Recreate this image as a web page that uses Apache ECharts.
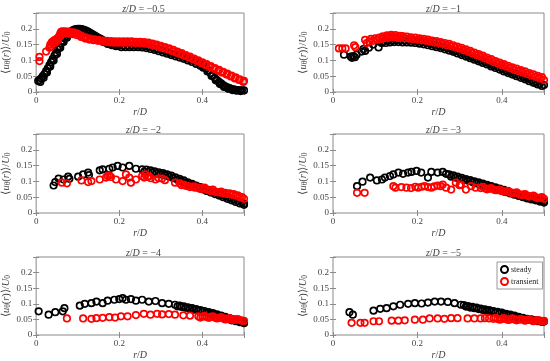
<!DOCTYPE html>
<html><head><meta charset="utf-8">
<script src="https://cdn.jsdelivr.net/npm/echarts@6/dist/echarts.min.js"></script>
<style>html,body{margin:0;padding:0;background:#fff}#c{width:550px;height:361px}</style>
</head><body><div id="c"></div>
<script>
const zLabels = ['−0.5','−1','−2','−3','−4','−5'];
const xTicks = [0, 0.2, 0.4];
const yTicks = [0, 0.05, 0.1, 0.15, 0.2];

const p1Steady = [[0.005,0.035],[0.008,0.038],[0.012,0.043],[0.016,0.05],[0.02,0.057],[0.024,0.066],[0.028,0.075],[0.032,0.085],[0.036,0.095],[0.04,0.105],[0.044,0.115],[0.048,0.125],[0.052,0.135],[0.056,0.145],[0.06,0.154],[0.064,0.162],[0.068,0.17],[0.072,0.177],[0.076,0.183],[0.08,0.188],[0.085,0.193],[0.09,0.197],[0.095,0.199],[0.1,0.2],[0.105,0.2],[0.11,0.199],[0.115,0.197],[0.12,0.194],[0.125,0.191],[0.13,0.187],[0.135,0.183],[0.14,0.179],[0.145,0.175],[0.15,0.171],[0.155,0.168],[0.16,0.164],[0.165,0.161],[0.17,0.158],[0.175,0.155],[0.18,0.153],[0.185,0.151],[0.19,0.15],[0.195,0.149],[0.2,0.148],[0.21,0.147],[0.22,0.147],[0.23,0.147],[0.24,0.147],[0.25,0.147],[0.26,0.146],[0.27,0.144],[0.28,0.141],[0.29,0.137],[0.3,0.133],[0.31,0.129],[0.32,0.125],[0.33,0.121],[0.34,0.117],[0.35,0.113],[0.36,0.109],[0.37,0.104],[0.38,0.099],[0.39,0.093],[0.4,0.086],[0.405,0.081],[0.41,0.075],[0.415,0.068],[0.42,0.06],[0.425,0.052],[0.43,0.045],[0.435,0.038],[0.44,0.032],[0.445,0.027],[0.45,0.022],[0.455,0.018],[0.46,0.015],[0.465,0.012],[0.47,0.01],[0.475,0.008],[0.48,0.007],[0.485,0.006],[0.49,0.005],[0.495,0.005],[0.5,0.005]];
const p1SteadyB = [[0.01,0.032],[0.018,0.045],[0.026,0.062],[0.034,0.081],[0.042,0.1],[0.05,0.12],[0.058,0.14],[0.066,0.158],[0.074,0.172],[0.082,0.184],[0.092,0.192],[0.102,0.195],[0.112,0.194],[0.122,0.188],[0.132,0.181],[0.142,0.173],[0.152,0.165],[0.162,0.158],[0.172,0.152],[0.182,0.148],[0.192,0.145],[0.205,0.142],[0.215,0.142],[0.225,0.142],[0.235,0.142],[0.245,0.142],[0.255,0.141],[0.265,0.139],[0.275,0.136],[0.285,0.133],[0.295,0.129],[0.305,0.125],[0.315,0.121],[0.325,0.117],[0.335,0.113],[0.345,0.109],[0.355,0.105],[0.365,0.1],[0.375,0.095],[0.385,0.089],[0.395,0.083],[0.402,0.077],[0.412,0.065],[0.422,0.051],[0.432,0.037],[0.442,0.025],[0.452,0.016],[0.462,0.01],[0.472,0.006],[0.482,0.004],[0.492,0.003]];
const p1Transient = [[0.008,0.098],[0.008,0.111],[0.024,0.128],[0.032,0.14],[0.034,0.15],[0.036,0.145],[0.038,0.158],[0.04,0.152],[0.042,0.162],[0.045,0.165],[0.048,0.16],[0.05,0.168],[0.053,0.172],[0.056,0.178],[0.058,0.185],[0.06,0.19],[0.063,0.192],[0.066,0.19],[0.07,0.192],[0.075,0.19],[0.08,0.191],[0.085,0.188],[0.09,0.189],[0.095,0.186],[0.1,0.184],[0.105,0.18],[0.11,0.177],[0.115,0.174],[0.12,0.172],[0.13,0.169],[0.14,0.167],[0.15,0.165],[0.16,0.163],[0.17,0.162],[0.18,0.161],[0.19,0.16],[0.2,0.16],[0.21,0.16],[0.22,0.16],[0.23,0.16],[0.24,0.159],[0.25,0.159],[0.26,0.158],[0.27,0.156],[0.28,0.153],[0.29,0.15],[0.3,0.146],[0.31,0.142],[0.32,0.138],[0.33,0.133],[0.34,0.128],[0.35,0.123],[0.36,0.117],[0.37,0.112],[0.38,0.106],[0.39,0.1],[0.4,0.094],[0.41,0.088],[0.42,0.082],[0.43,0.076],[0.44,0.07],[0.45,0.064],[0.46,0.058],[0.47,0.052],[0.48,0.046],[0.49,0.04],[0.5,0.035]];
const p1TransientB = [[0.045,0.155],[0.052,0.163],[0.058,0.176],[0.065,0.184],[0.072,0.186],[0.078,0.185],[0.087,0.183],[0.097,0.18],[0.108,0.174],[0.118,0.169],[0.128,0.166],[0.138,0.164],[0.148,0.162],[0.158,0.16],[0.168,0.158],[0.178,0.157],[0.188,0.156],[0.198,0.156],[0.208,0.156],[0.218,0.156],[0.228,0.156],[0.238,0.155],[0.248,0.155],[0.258,0.154],[0.268,0.152],[0.278,0.149],[0.288,0.146],[0.298,0.142],[0.308,0.138],[0.318,0.134],[0.328,0.129],[0.338,0.124],[0.348,0.119],[0.358,0.114],[0.368,0.108],[0.378,0.103],[0.388,0.097],[0.398,0.091],[0.408,0.085],[0.418,0.079],[0.428,0.073],[0.438,0.067],[0.448,0.061],[0.458,0.055],[0.468,0.049],[0.478,0.043],[0.488,0.038],[0.498,0.032]];

const p2Steady = [[0.026,0.118],[0.042,0.112],[0.045,0.108],[0.048,0.114],[0.052,0.11],[0.056,0.118],[0.068,0.128],[0.072,0.136],[0.076,0.13],[0.085,0.14],[0.095,0.15],[0.108,0.141],[0.115,0.155],[0.12,0.16],[0.13,0.162],[0.14,0.163],[0.15,0.165],[0.16,0.164],[0.17,0.163],[0.18,0.163],[0.19,0.162],[0.2,0.16],[0.21,0.158],[0.22,0.156],[0.23,0.153],[0.24,0.15],[0.25,0.147],[0.26,0.143],[0.27,0.139],[0.28,0.135],[0.29,0.13],[0.3,0.126],[0.31,0.12],[0.32,0.115],[0.33,0.11],[0.34,0.105],[0.35,0.1],[0.36,0.095],[0.37,0.09],[0.38,0.084],[0.39,0.079],[0.4,0.074],[0.41,0.068],[0.42,0.063],[0.43,0.058],[0.44,0.053],[0.45,0.048],[0.46,0.043],[0.47,0.037],[0.48,0.032],[0.49,0.026],[0.5,0.022]];
const p2SteadyB = [[0.125,0.155],[0.135,0.157],[0.145,0.158],[0.155,0.158],[0.165,0.157],[0.175,0.157],[0.185,0.156],[0.195,0.155],[0.205,0.153],[0.215,0.151],[0.225,0.148],[0.235,0.145],[0.245,0.142],[0.255,0.139],[0.265,0.135],[0.275,0.131],[0.285,0.127],[0.295,0.122],[0.305,0.117],[0.315,0.112],[0.325,0.107],[0.335,0.102],[0.345,0.097],[0.355,0.092],[0.365,0.087],[0.375,0.081],[0.385,0.076],[0.395,0.071],[0.405,0.065],[0.415,0.06],[0.425,0.055],[0.435,0.05],[0.445,0.045],[0.455,0.04],[0.465,0.034],[0.475,0.029],[0.485,0.024],[0.495,0.019]];
const p2Transient = [[0.014,0.138],[0.022,0.138],[0.03,0.138],[0.05,0.148],[0.053,0.142],[0.076,0.165],[0.08,0.155],[0.086,0.16],[0.09,0.168],[0.095,0.162],[0.1,0.17],[0.105,0.165],[0.11,0.172],[0.115,0.168],[0.12,0.17],[0.125,0.174],[0.13,0.171],[0.135,0.174],[0.14,0.177],[0.145,0.173],[0.15,0.174],[0.155,0.171],[0.16,0.172],[0.17,0.17],[0.18,0.169],[0.19,0.167],[0.2,0.166],[0.21,0.164],[0.22,0.162],[0.23,0.16],[0.24,0.157],[0.25,0.155],[0.26,0.152],[0.27,0.148],[0.28,0.145],[0.29,0.141],[0.3,0.137],[0.31,0.132],[0.32,0.127],[0.33,0.122],[0.34,0.117],[0.35,0.112],[0.36,0.106],[0.37,0.101],[0.38,0.095],[0.39,0.09],[0.4,0.085],[0.41,0.08],[0.42,0.075],[0.43,0.07],[0.44,0.066],[0.45,0.061],[0.46,0.057],[0.47,0.052],[0.48,0.048],[0.49,0.043],[0.5,0.038]];
const p2TransientB = [[0.118,0.176],[0.128,0.179],[0.138,0.181],[0.148,0.18],[0.158,0.178],[0.165,0.177],[0.175,0.175],[0.185,0.173],[0.195,0.172],[0.205,0.17],[0.215,0.168],[0.225,0.166],[0.235,0.163],[0.245,0.161],[0.255,0.158],[0.265,0.155],[0.275,0.152],[0.285,0.148],[0.295,0.144],[0.305,0.14],[0.315,0.135],[0.325,0.13],[0.335,0.125],[0.345,0.12],[0.355,0.115],[0.365,0.109],[0.375,0.104],[0.385,0.098],[0.395,0.093],[0.405,0.088],[0.415,0.083],[0.425,0.078],[0.435,0.074],[0.445,0.069],[0.455,0.065],[0.465,0.06],[0.475,0.056],[0.485,0.051],[0.495,0.047]];

const p3Steady = [[0.042,0.087],[0.046,0.098],[0.054,0.109],[0.066,0.106],[0.077,0.115],[0.08,0.108],[0.101,0.115],[0.113,0.122],[0.125,0.128],[0.127,0.12],[0.153,0.135],[0.16,0.138],[0.176,0.14],[0.184,0.144],[0.196,0.149],[0.208,0.144],[0.224,0.149],[0.24,0.14],[0.255,0.138],[0.265,0.137],[0.275,0.135],[0.285,0.132],[0.295,0.129],[0.305,0.126],[0.315,0.122],[0.325,0.118],[0.335,0.113],[0.345,0.108],[0.355,0.103],[0.365,0.097],[0.375,0.092],[0.385,0.087],[0.395,0.082],[0.405,0.078],[0.415,0.073],[0.425,0.068],[0.435,0.063],[0.445,0.058],[0.455,0.053],[0.465,0.048],[0.475,0.043],[0.485,0.038],[0.495,0.033],[0.5,0.03]];
const p3SteadyB = [[0.26,0.131],[0.27,0.13],[0.28,0.128],[0.29,0.125],[0.3,0.122],[0.31,0.119],[0.32,0.115],[0.33,0.11],[0.34,0.105],[0.35,0.1],[0.36,0.095],[0.37,0.09],[0.38,0.085],[0.39,0.08],[0.4,0.075],[0.41,0.07],[0.42,0.065],[0.43,0.06],[0.44,0.055],[0.45,0.05],[0.46,0.045],[0.47,0.04],[0.48,0.035],[0.49,0.03],[0.5,0.026]];
const p3Transient = [[0.062,0.096],[0.074,0.094],[0.109,0.103],[0.125,0.098],[0.133,0.101],[0.153,0.106],[0.168,0.112],[0.172,0.117],[0.176,0.119],[0.18,0.114],[0.192,0.106],[0.208,0.101],[0.216,0.122],[0.224,0.112],[0.228,0.096],[0.24,0.106],[0.255,0.117],[0.26,0.112],[0.263,0.122],[0.268,0.114],[0.271,0.117],[0.276,0.11],[0.287,0.106],[0.295,0.11],[0.303,0.109],[0.31,0.104],[0.334,0.096],[0.345,0.094],[0.355,0.09],[0.366,0.085],[0.375,0.083],[0.382,0.08],[0.39,0.08],[0.4,0.078],[0.41,0.074],[0.42,0.07],[0.43,0.068],[0.44,0.065],[0.45,0.062],[0.46,0.06],[0.47,0.058],[0.48,0.055],[0.49,0.05],[0.5,0.045]];
const p3TransientB = [[0.35,0.088],[0.36,0.086],[0.37,0.082],[0.38,0.084],[0.395,0.076],[0.405,0.08],[0.415,0.072],[0.425,0.074],[0.435,0.066],[0.445,0.068],[0.455,0.064],[0.465,0.062],[0.475,0.06],[0.485,0.056],[0.495,0.05]];

const p4Steady = [[0.057,0.085],[0.07,0.099],[0.088,0.112],[0.104,0.103],[0.116,0.106],[0.123,0.112],[0.135,0.117],[0.143,0.122],[0.155,0.128],[0.166,0.124],[0.178,0.128],[0.186,0.13],[0.198,0.133],[0.209,0.128],[0.225,0.112],[0.233,0.13],[0.248,0.128],[0.26,0.13],[0.268,0.124],[0.275,0.122],[0.285,0.119],[0.295,0.115],[0.305,0.111],[0.315,0.107],[0.325,0.104],[0.335,0.1],[0.345,0.097],[0.355,0.093],[0.365,0.089],[0.375,0.085],[0.385,0.081],[0.395,0.077],[0.405,0.073],[0.415,0.068],[0.425,0.064],[0.435,0.06],[0.445,0.056],[0.455,0.052],[0.465,0.049],[0.475,0.045],[0.485,0.041],[0.495,0.038],[0.5,0.036]];
const p4SteadyB = [[0.28,0.115],[0.29,0.112],[0.3,0.108],[0.31,0.105],[0.32,0.102],[0.33,0.098],[0.34,0.094],[0.35,0.091],[0.36,0.087],[0.37,0.083],[0.38,0.079],[0.39,0.075],[0.4,0.07],[0.41,0.066],[0.42,0.062],[0.43,0.058],[0.44,0.054],[0.45,0.05],[0.46,0.046],[0.47,0.043],[0.48,0.04],[0.49,0.036],[0.5,0.033]];
const p4Transient = [[0.057,0.064],[0.075,0.064],[0.143,0.085],[0.148,0.08],[0.162,0.082],[0.174,0.08],[0.185,0.079],[0.195,0.083],[0.202,0.08],[0.21,0.083],[0.217,0.085],[0.225,0.082],[0.233,0.08],[0.24,0.084],[0.248,0.087],[0.255,0.085],[0.26,0.09],[0.268,0.08],[0.28,0.074],[0.291,0.096],[0.3,0.088],[0.303,0.09],[0.315,0.074],[0.327,0.085],[0.338,0.08],[0.35,0.079],[0.36,0.078],[0.37,0.077],[0.38,0.075],[0.39,0.072],[0.4,0.07],[0.41,0.068],[0.42,0.065],[0.43,0.063],[0.44,0.06],[0.45,0.058],[0.46,0.055],[0.47,0.053],[0.48,0.05],[0.49,0.048],[0.5,0.045]];
const p4TransientB = [[0.355,0.083],[0.365,0.075],[0.375,0.079],[0.385,0.072],[0.395,0.074],[0.405,0.067],[0.415,0.07],[0.425,0.062],[0.435,0.065],[0.445,0.057],[0.455,0.06],[0.465,0.052],[0.475,0.055],[0.485,0.047],[0.495,0.05]];

const p5Steady = [[0.006,0.076],[0.03,0.065],[0.046,0.073],[0.064,0.076],[0.068,0.086],[0.105,0.094],[0.117,0.1],[0.133,0.102],[0.145,0.107],[0.16,0.102],[0.172,0.11],[0.188,0.113],[0.2,0.115],[0.208,0.118],[0.216,0.113],[0.228,0.115],[0.24,0.11],[0.255,0.113],[0.271,0.107],[0.287,0.109],[0.303,0.102],[0.319,0.1],[0.334,0.097],[0.345,0.094],[0.355,0.092],[0.365,0.089],[0.375,0.086],[0.385,0.083],[0.395,0.08],[0.405,0.077],[0.415,0.073],[0.425,0.07],[0.435,0.066],[0.445,0.062],[0.455,0.058],[0.465,0.054],[0.475,0.05],[0.485,0.046],[0.495,0.042],[0.5,0.04]];
const p5SteadyB = [[0.34,0.092],[0.35,0.09],[0.36,0.087],[0.37,0.084],[0.38,0.081],[0.39,0.078],[0.4,0.075],[0.41,0.071],[0.42,0.067],[0.43,0.063],[0.44,0.059],[0.45,0.055],[0.46,0.051],[0.47,0.047],[0.48,0.044],[0.49,0.041],[0.5,0.038]];
const p5Transient = [[0.074,0.053],[0.113,0.053],[0.133,0.052],[0.145,0.054],[0.16,0.055],[0.176,0.057],[0.19,0.056],[0.204,0.06],[0.22,0.06],[0.24,0.064],[0.259,0.068],[0.275,0.065],[0.291,0.068],[0.303,0.066],[0.319,0.067],[0.334,0.065],[0.354,0.063],[0.37,0.062],[0.39,0.06],[0.4,0.059],[0.41,0.058],[0.42,0.057],[0.43,0.056],[0.44,0.055],[0.45,0.053],[0.46,0.052],[0.47,0.05],[0.48,0.049],[0.49,0.048],[0.5,0.045]];
const p5TransientB = [[0.395,0.056],[0.405,0.061],[0.415,0.055],[0.425,0.06],[0.435,0.053],[0.445,0.057],[0.455,0.05],[0.465,0.054],[0.475,0.048],[0.485,0.051],[0.495,0.046]];

const p6Steady = [[0.039,0.073],[0.047,0.065],[0.096,0.078],[0.112,0.084],[0.127,0.086],[0.143,0.092],[0.159,0.097],[0.178,0.1],[0.194,0.102],[0.21,0.101],[0.225,0.104],[0.241,0.107],[0.256,0.107],[0.272,0.106],[0.288,0.102],[0.303,0.097],[0.31,0.096],[0.32,0.093],[0.33,0.09],[0.34,0.088],[0.35,0.085],[0.36,0.082],[0.37,0.08],[0.38,0.077],[0.39,0.074],[0.4,0.072],[0.41,0.068],[0.42,0.065],[0.43,0.062],[0.44,0.058],[0.45,0.055],[0.46,0.052],[0.47,0.05],[0.48,0.047],[0.49,0.045],[0.5,0.043]];
const p6SteadyB = [[0.315,0.091],[0.325,0.088],[0.335,0.086],[0.345,0.083],[0.355,0.08],[0.365,0.078],[0.375,0.075],[0.385,0.072],[0.395,0.069],[0.405,0.066],[0.415,0.063],[0.425,0.06],[0.435,0.057],[0.445,0.054],[0.455,0.051],[0.465,0.048],[0.475,0.046],[0.485,0.044],[0.495,0.042]];
const p6Transient = [[0.044,0.039],[0.065,0.039],[0.075,0.039],[0.096,0.044],[0.109,0.044],[0.139,0.046],[0.155,0.046],[0.17,0.047],[0.194,0.049],[0.213,0.049],[0.229,0.053],[0.248,0.053],[0.264,0.052],[0.28,0.054],[0.295,0.054],[0.319,0.053],[0.335,0.053],[0.35,0.053],[0.36,0.054],[0.37,0.053],[0.38,0.052],[0.39,0.052],[0.4,0.051],[0.41,0.051],[0.42,0.05],[0.43,0.05],[0.44,0.049],[0.45,0.049],[0.46,0.048],[0.47,0.047],[0.48,0.046],[0.49,0.046],[0.5,0.045]];
const p6TransientB = [[0.385,0.055],[0.395,0.049],[0.405,0.054],[0.415,0.048],[0.425,0.053],[0.435,0.047],[0.445,0.051],[0.455,0.046],[0.465,0.05],[0.475,0.044],[0.485,0.048],[0.495,0.043]];

const steadyData = [p1Steady.concat(p1SteadyB), p2Steady.concat(p2SteadyB), p3Steady.concat(p3SteadyB),
                    p4Steady.concat(p4SteadyB), p5Steady.concat(p5SteadyB), p6Steady.concat(p6SteadyB)];
const transientData = [p1Transient.concat(p1TransientB), p2Transient.concat(p2TransientB), p3Transient.concat(p3TransientB),
                       p4Transient.concat(p4TransientB), p5Transient.concat(p5TransientB), p6Transient.concat(p6TransientB)];

const FONT = 'Liberation Serif';
const LBL = '#444';
const BOX = '#8a8a8a';
const gridPos = [[33,13],[333,13],[33,134],[333,134],[33,257],[333,257]];
const GW = 211, GH = 79;

const grid = [], xAxis = [], yAxis = [], series = [], title = [];
const fmtX = v => xTicks.some(t => Math.abs(t - v) < 1e-9) ? String(v) : '';
const fmtY = v => yTicks.some(t => Math.abs(t - v) < 1e-9) ? String(+v.toFixed(2)) : '';
const yName = '{n|⟨}{i|u}{s|θ}{n|(}{i|r}{n|)⟩/}{i|U}{s|0}';
const richY = {
  n:{fontFamily:FONT,fontSize:10.5,color:LBL},
  i:{fontFamily:FONT,fontSize:10.5,fontStyle:'italic',color:LBL},
  s:{fontFamily:FONT,fontSize:7.5,color:LBL,verticalAlign:'bottom',padding:[4,0,0,0]}
};
const richT = {
  n:{fontFamily:FONT,fontSize:10,color:LBL,fontWeight:'normal'},
  i:{fontFamily:FONT,fontSize:10,fontStyle:'italic',color:LBL,fontWeight:'normal'}
};

gridPos.forEach((p,k) => {
  grid.push({left:p[0], top:p[1], width:GW, height:GH, show:true, borderColor:BOX, borderWidth:1, backgroundColor:'transparent'});
  const tick = {show:true, inside:true, length:3, lineStyle:{color:BOX, width:1}};
  xAxis.push({type:'value', gridIndex:k, min:0, max:0.5, interval:0.2, position:'bottom',
    axisLine:{show:false}, axisTick:tick, splitLine:{show:false},
    axisLabel:{formatter:fmtX, fontFamily:FONT, fontSize:9, color:LBL, margin:4},
    name:'{i|r}{n|/}{i|D}', nameLocation:'middle', nameGap:15,
    nameTextStyle:{rich:richT}});
  xAxis.push({type:'value', gridIndex:k, min:0, max:0.5, interval:0.2, position:'top',
    axisLine:{show:false}, axisTick:tick, splitLine:{show:false}, axisLabel:{show:false}});
  yAxis.push({type:'value', gridIndex:k, min:0, max:0.25, interval:0.05, position:'left',
    axisLine:{show:false}, axisTick:tick, splitLine:{show:false},
    axisLabel:{formatter:fmtY, fontFamily:FONT, fontSize:9, color:LBL, margin:4},
    name:yName, nameLocation:'middle', nameGap:21, nameRotate:90,
    nameTextStyle:{rich:richY}});
  yAxis.push({type:'value', gridIndex:k, min:0, max:0.25, interval:0.05, position:'right',
    axisLine:{show:false}, axisTick:tick, splitLine:{show:false}, axisLabel:{show:false}});
  title.push({text:'{i|z}{n|/}{i|D}{n| = ' + zLabels[k] + '}', left:p[0] + GW/2, top:p[1] - 14,
    textAlign:'center', textStyle:{rich:richT, fontWeight:'normal'}});
  const mk = (name, data, color) => ({
    type:'scatter', name, xAxisIndex:2*k, yAxisIndex:2*k, data,
    symbol:'circle', symbolSize:6.5,
    itemStyle:{color:'transparent', borderColor:color, borderWidth:1.7, opacity:1},
    emphasis:{disabled:true}, silent:true
  });
  series.push(mk('steady', steadyData[k], '#000000'));
  series.push(mk('transient', transientData[k], '#ff0000'));
});

const chart = echarts.init(document.getElementById('c'), null, {renderer:'canvas'});
chart.setOption({
  animation:false,
  backgroundColor:'#fff',
  title, grid, xAxis, yAxis, series,
  legend:{data:['steady','transient'], orient:'vertical', left:497, top:262,
    itemWidth:7, itemHeight:7, itemGap:3, padding:[3,4,3,3],
    borderColor:'#999', borderWidth:1, backgroundColor:'#fff',
    textStyle:{fontFamily:FONT, fontSize:8, color:'#222', padding:[0,0,0,-2]},
    selectedMode:false}
});
</script></body></html>
